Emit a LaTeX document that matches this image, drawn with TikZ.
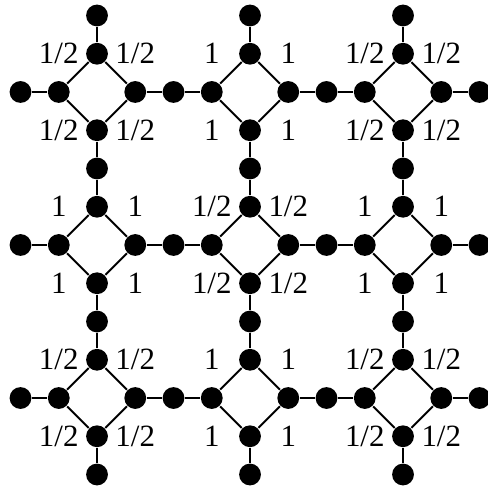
\documentclass[tikz,border=0pt]{standalone}
\usepackage{fontspec}
\setmainfont{Liberation Serif}
\tikzset{dot/.style={circle, fill=black, inner sep=0pt, minimum size=0.57cm},
  wt/.style={inner sep=0pt, font=\fontsize{23}{23}\selectfont}}

\begin{document}
\begin{tikzpicture}[line width=1.4pt]
\useasboundingbox (-2.536,-10.379) rectangle (10.196,2.405);

% the nine diamonds and the weights at their corners
\foreach \i in {0,1,2} {
  \foreach \j in {0,1,2} {
    \node[dot] (t-\i-\j) at (4*\i, -4*\j+1) {};
    \node[dot] (b-\i-\j) at (4*\i, -4*\j-1) {};
    \node[dot] (l-\i-\j) at (4*\i-1, -4*\j) {};
    \node[dot] (r-\i-\j) at (4*\i+1, -4*\j) {};
    \pgfmathtruncatemacro\s{\i+\j}
    \ifodd\s \def\w{1}\else\def\w{1/2}\fi
    \node[wt] (w-\i-\j-tl) at (4*\i-1, -4*\j+1) {\w};
    \node[wt] (w-\i-\j-tr) at (4*\i+1, -4*\j+1) {\w};
    \node[wt] (w-\i-\j-bl) at (4*\i-1, -4*\j-1) {\w};
    \node[wt] (w-\i-\j-br) at (4*\i+1, -4*\j-1) {\w};
  }
}

% dots between the diamonds and on the border
\foreach \k in {0,...,3} {
  \foreach \j in {0,1,2} {
    \node[dot] (h-\k-\j) at (4*\k-2, -4*\j) {};
    \node[dot] (v-\j-\k) at (4*\j, -4*\k+2) {};
  }
}

\foreach \i in {0,1,2} {
  \foreach \j in {0,1,2} {
    \pgfmathtruncatemacro\n{\i+1}
    \pgfmathtruncatemacro\m{\j+1}
    \draw (t-\i-\j) -- (r-\i-\j) -- (b-\i-\j) -- (l-\i-\j) -- (t-\i-\j);
    \draw (h-\i-\j) -- (l-\i-\j) (r-\i-\j) -- (h-\n-\j);
    \draw (v-\i-\j) -- (t-\i-\j) (b-\i-\j) -- (v-\i-\m);
  }
}
\end{tikzpicture}
\end{document}
